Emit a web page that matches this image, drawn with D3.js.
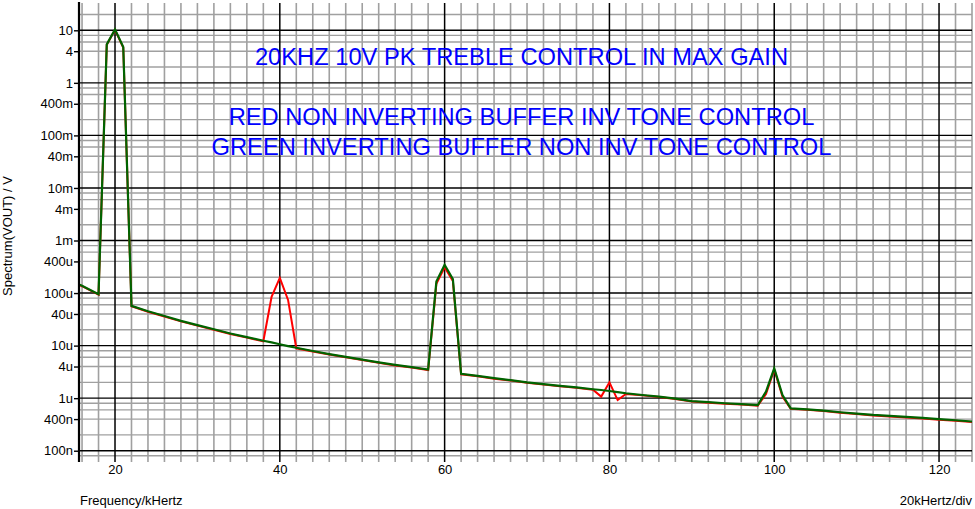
<!DOCTYPE html>
<html>
<head>
<meta charset="utf-8">
<script src="https://cdn.jsdelivr.net/npm/d3@7/dist/d3.min.js"></script>
<style>
  html, body { margin: 0; padding: 0; background: #fff; }
  svg { display: block; }
  text { font-family: Arial, "Liberation Sans", sans-serif; }
</style>
</head>
<body>
<svg id="chart" width="975" height="509"></svg>
<script>
// ---- data ----
const freqKHz = [15, 16, 18, 19, 20, 21, 22, 24, 26, 28, 30, 32, 34, 36, 38, 39, 40, 41, 42, 44, 46, 48, 50, 52, 54, 56, 58, 59, 60, 61, 62, 64, 66, 68, 70, 72, 74, 76, 78, 79, 80, 81, 82, 84, 86, 88, 90, 92, 94, 96, 98, 99, 100, 101, 102, 104, 106, 108, 110, 112, 114, 116, 118, 120, 122, 124, 125];

const greenV = [160e-6, 138e-6, 95e-6, 5.4, 10.4, 4.8, 57e-6, 45e-6, 36.5e-6, 29.5e-6, 24.5e-6, 20.5e-6, 17e-6, 14.5e-6, 12.4e-6, 11.5e-6, 10.6e-6, 9.8e-6, 9.1e-6, 7.9e-6, 6.9e-6, 6.1e-6, 5.4e-6, 4.8e-6, 4.3e-6, 3.9e-6, 3.5e-6, 165e-6, 345e-6, 185e-6, 2.9e-6, 2.65e-6, 2.4e-6, 2.2e-6, 2.0e-6, 1.85e-6, 1.72e-6, 1.6e-6, 1.48e-6, 1.43e-6, 1.37e-6, 1.3e-6, 1.24e-6, 1.15e-6, 1.07e-6, 0.98e-6, 0.88e-6, 0.84e-6, 0.8e-6, 0.77e-6, 0.74e-6, 1.33e-6, 3.7e-6, 1.15e-6, 0.64e-6, 0.61e-6, 0.58e-6, 0.54e-6, 0.51e-6, 0.48e-6, 0.46e-6, 0.44e-6, 0.42e-6, 0.40e-6, 0.38e-6, 0.36e-6, 0.35e-6];

const redV = [157e-6, 135e-6, 93e-6, 5.3, 10.2, 4.7, 56e-6, 44e-6, 35.8e-6, 28.9e-6, 24e-6, 20.1e-6, 16.7e-6, 14.2e-6, 12.1e-6, 85e-6, 195e-6, 74e-6, 8.9e-6, 7.75e-6, 6.75e-6, 5.98e-6, 5.3e-6, 4.7e-6, 4.2e-6, 3.82e-6, 3.43e-6, 150e-6, 310e-6, 170e-6, 2.84e-6, 2.6e-6, 2.35e-6, 2.16e-6, 1.96e-6, 1.81e-6, 1.69e-6, 1.57e-6, 1.45e-6, 1.07e-6, 2.0e-6, 0.92e-6, 1.2e-6, 1.13e-6, 1.05e-6, 0.96e-6, 0.86e-6, 0.82e-6, 0.785e-6, 0.755e-6, 0.72e-6, 1.2e-6, 3.5e-6, 1.07e-6, 0.625e-6, 0.6e-6, 0.57e-6, 0.53e-6, 0.5e-6, 0.47e-6, 0.45e-6, 0.43e-6, 0.41e-6, 0.39e-6, 0.372e-6, 0.352e-6, 0.343e-6];

const yTickValues = [10, 4, 1, 0.4, 0.1, 0.04, 0.01, 0.004, 0.001, 4e-4, 1e-4, 4e-5, 1e-5, 4e-6, 1e-6, 4e-7, 1e-7];
const yTickLabels = ["10", "4", "1", "400m", "100m", "40m", "10m", "4m", "1m", "400u", "100u", "40u", "10u", "4u", "1u", "400n", "100n"];
const xTickValues = [20, 40, 60, 80, 100, 120];
const xTickLabels = ["20", "40", "60", "80", "100", "120"];
const gridMinorMultipliers = [2, 4, 6, 8];
const decadeExponents = [-8, -7, -6, -5, -4, -3, -2, -1, 0, 1];

const titleLines = ["20KHZ 10V PK TREBLE CONTROL IN MAX GAIN", "RED NON INVERTING BUFFER INV TONE CONTROL", "GREEN INVERTING BUFFER NON INV TONE CONTROL"];

// ---- layout ----
const pLeft = 79, pRight = 972, pTop = 5, pBottom = 462;
const svg = d3.select("#chart");

const x = d3.scaleLinear().domain([15.63, 124]).range([pLeft, pRight]);
const y = d3.scaleLog().domain([6.1e-8, 30.3]).range([pBottom, pTop]);

// grid
const grid = svg.append("g");
const vMinor = d3.range(16, 125, 2).filter(f => f % 20 !== 0);
grid.selectAll(".vmin").data(vMinor).join("line")
  .attr("x1", d => x(d)).attr("x2", d => x(d))
  .attr("y1", pTop - 2).attr("y2", pBottom)
  .attr("stroke", "#a0a0a0").attr("stroke-width", 1.6);
const hMinor = [];
decadeExponents.forEach(e => gridMinorMultipliers.forEach(m => hMinor.push(m * Math.pow(10, e))));
grid.selectAll(".hmin").data(hMinor.filter(v => y(v) >= pTop - 1 && y(v) <= pBottom)).join("line")
  .attr("x1", pLeft).attr("x2", pRight)
  .attr("y1", d => y(d)).attr("y2", d => y(d))
  .attr("stroke", "#a0a0a0").attr("stroke-width", 1.4);
const hMajor = decadeExponents.map(e => Math.pow(10, e)).filter(v => y(v) >= pTop && y(v) <= pBottom);
grid.selectAll(".hmaj").data(hMajor).join("line")
  .attr("x1", pLeft).attr("x2", pRight)
  .attr("y1", d => y(d)).attr("y2", d => y(d))
  .attr("stroke", "#000").attr("stroke-width", 1.4);
grid.selectAll(".vmaj").data(xTickValues).join("line")
  .attr("x1", d => x(d)).attr("x2", d => x(d))
  .attr("y1", pTop - 2).attr("y2", pBottom)
  .attr("stroke", "#000").attr("stroke-width", 1.5);

// y axis
const yAxis = d3.axisLeft(y).tickValues(yTickValues)
  .tickFormat((d, i) => yTickLabels[i]).tickSize(5).tickPadding(1);
const gy = svg.append("g").attr("transform", `translate(${pLeft},0)`).call(yAxis);
gy.select(".domain").remove();
gy.selectAll(".tick line").attr("stroke", "#000").attr("stroke-width", 1.4);
gy.selectAll(".tick text").attr("font-size", 13).attr("fill", "#000")
  .attr("font-family", "Arial, 'Liberation Sans', sans-serif");
svg.append("line").attr("x1", pLeft).attr("x2", pLeft).attr("y1", 2).attr("y2", pBottom)
  .attr("stroke", "#000").attr("stroke-width", 2.2);

// x axis labels
const xAxis = d3.axisBottom(x).tickValues(xTickValues)
  .tickFormat((d, i) => xTickLabels[i]).tickSize(0).tickPadding(3);
const gx = svg.append("g").attr("transform", `translate(0,${pBottom})`).call(xAxis);
gx.select(".domain").remove();
gx.selectAll(".tick text").attr("font-size", 13).attr("fill", "#000")
  .attr("font-family", "Arial, 'Liberation Sans', sans-serif");

// clip
svg.append("clipPath").attr("id", "plotclip").append("rect")
  .attr("x", pLeft + 1).attr("y", pTop - 3).attr("width", pRight - pLeft - 1).attr("height", pBottom - pTop + 3);

const line = d3.line().x(d => x(d[0])).y(d => y(d[1]));
const plot = svg.append("g").attr("clip-path", "url(#plotclip)");
plot.append("path").datum(freqKHz.map((f, i) => [f, redV[i]]))
  .attr("d", line).attr("fill", "none").attr("stroke", "#ff0000").attr("stroke-width", 2)
  .attr("stroke-linejoin", "miter");
plot.append("path").datum(freqKHz.map((f, i) => [f, greenV[i]]))
  .attr("d", line).attr("fill", "none").attr("stroke", "#006400").attr("stroke-width", 2.2)
  .attr("stroke-linejoin", "miter");

// titles
const titleY = [65, 125, 155];
svg.selectAll(".title").data(titleLines).join("text")
  .attr("x", 521.5).attr("y", (d, i) => titleY[i])
  .attr("text-anchor", "middle").attr("font-size", 23.7).attr("fill", "#0000ff")
  .text(d => d);

// axis titles
svg.append("text").attr("x", 80).attr("y", 505).attr("font-size", 13).attr("fill", "#000")
  .text("Frequency/kHertz");
svg.append("text").attr("x", 972).attr("y", 505).attr("font-size", 13).attr("fill", "#000")
  .attr("text-anchor", "end").text("20kHertz/div");
svg.append("text").attr("transform", "translate(12,236) rotate(-90)")
  .attr("text-anchor", "middle").attr("font-size", 13).attr("fill", "#000")
  .text("Spectrum(VOUT) / V");
</script>
</body>
</html>
